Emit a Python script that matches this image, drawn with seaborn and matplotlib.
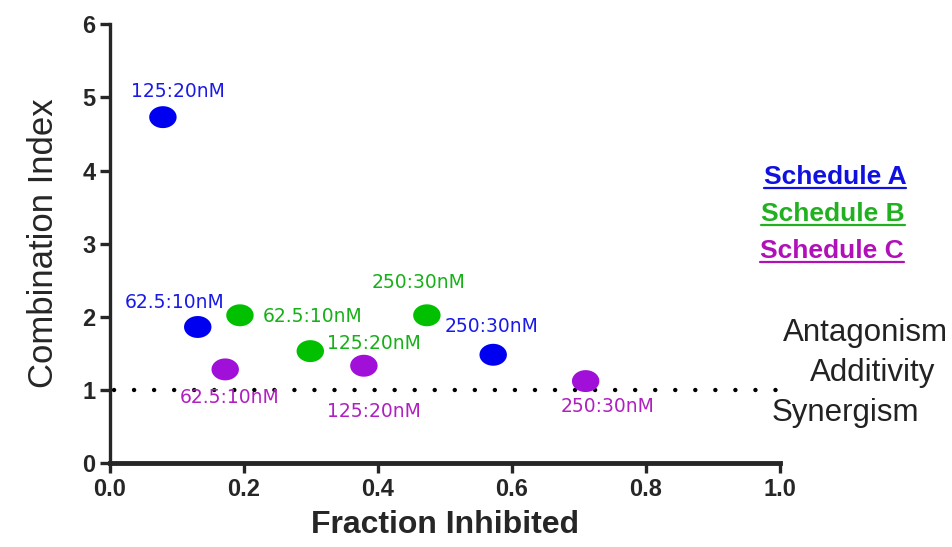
import numpy as np
import pandas as pd
import seaborn as sns
import matplotlib.pyplot as plt
import matplotlib.ticker as mticker
from matplotlib.path import Path
from matplotlib.lines import Line2D

# Daten
schedules = ["Schedule A", "Schedule B", "Schedule C"]
doses = ["62.5:10nM", "125:20nM", "250:30nM"]
fa_a = [0.131, 0.079, 0.572]
ci_a = [1.86, 4.73, 1.48]
fa_b = [0.194, 0.299, 0.473]
ci_b = [2.02, 1.53, 2.02]
fa_c = [0.172, 0.379, 0.710]
ci_c = [1.28, 1.33, 1.12]
additivity = 1.0

marker_colors = {"Schedule A": "#0000f0", "Schedule B": "#00c000", "Schedule C": "#a010d8"}
label_colors = {"Schedule A": "#1a1ae6", "Schedule B": "#18b018", "Schedule C": "#b020c0"}
legend_colors = {"Schedule A": "#1010e0", "Schedule B": "#20b020", "Schedule C": "#b010b8"}

df = pd.DataFrame({
    "fa": fa_a + fa_b + fa_c,
    "ci": ci_a + ci_b + ci_c,
    "schedule": [s for s in schedules for _ in doses],
    "dose": doses * 3,
})

# Label-Positionen relativ zum Punkt (dx, dy in Datenkoordinaten)
offsets = {
    ("Schedule A", "62.5:10nM"): (-0.035, 0.34),
    ("Schedule A", "125:20nM"): (0.022, 0.35),
    ("Schedule A", "250:30nM"): (-0.002, 0.38),
    ("Schedule B", "62.5:10nM"): (0.108, -0.01),
    ("Schedule B", "125:20nM"): (0.095, 0.11),
    ("Schedule B", "250:30nM"): (-0.013, 0.45),
    ("Schedule C", "62.5:10nM"): (0.006, -0.39),
    ("Schedule C", "125:20nM"): (0.015, -0.62),
    ("Schedule C", "250:30nM"): (0.032, -0.35),
}

sns.set_style("ticks")
plt.rcParams["font.family"] = ["Liberation Sans", "DejaVu Sans"]

fig = plt.figure(figsize=(9.53, 5.47), dpi=100)
ax = fig.add_axes([0.1154, 0.1536, 0.703, 0.802])

# elliptischer Marker
t = np.linspace(0, 2 * np.pi, 60)
ellipse = Path(np.column_stack([np.cos(t), 0.8 * np.sin(t)]), closed=True)

ax.plot([0.006, 1.0], [additivity, additivity], color="black", lw=3.2,
        linestyle=(0, (0.01, 4.5)), dash_capstyle="round", zorder=1)

sns.scatterplot(data=df, x="fa", y="ci", hue="schedule", palette=marker_colors,
                marker=ellipse, s=390, linewidth=0, legend=False, ax=ax, zorder=3)

for _, r in df.iterrows():
    dx, dy = offsets[(r["schedule"], r["dose"])]
    ax.text(r["fa"] + dx, r["ci"] + dy, r["dose"], color=label_colors[r["schedule"]],
            fontsize=13.5, family="DejaVu Sans", ha="center", va="center")

ax.set_xlim(0, 1.0)
ax.set_ylim(0, 6)
ax.xaxis.set_major_locator(mticker.MultipleLocator(0.2))
ax.yaxis.set_major_locator(mticker.MultipleLocator(1))
ax.xaxis.set_major_formatter(mticker.FormatStrFormatter("%.1f"))
ax.set_xlabel("Fraction Inhibited", fontsize=23, fontweight="bold", labelpad=7)
ax.set_ylabel("Combination Index", fontsize=25, labelpad=16)

sns.despine(ax=ax)
ax.spines["left"].set_linewidth(2.4)
ax.spines["bottom"].set_linewidth(3.5)
ax.tick_params(axis="both", width=2.4, length=7, direction="out", labelsize=17)
for lab in ax.get_xticklabels() + ax.get_yticklabels():
    lab.set_fontweight("bold")

# Legende als Text
leg_y = [3.91, 3.40, 2.90]
leg_x = [1.082, 1.079, 1.078]
leg_texts = []
for s, xx, yy in zip(schedules, leg_x, leg_y):
    leg_texts.append(ax.text(xx, yy, s, color=legend_colors[s], fontsize=19, fontweight="bold",
                             ha="center", va="center", clip_on=False))

ax.text(1.127, 1.78, "Antagonism", fontsize=22.5, ha="center", va="center", clip_on=False, color="#222222")
ax.text(1.139, 1.23, "Additivity", fontsize=22.5, ha="center", va="center", clip_on=False, color="#222222")
ax.text(1.097, 0.68, "Synergism", fontsize=22.5, ha="center", va="center", clip_on=False, color="#222222")

# Unterstreichung
fig.canvas.draw()
inv = fig.transFigure.inverted()
for txt, s in zip(leg_texts, schedules):
    bb = txt.get_window_extent()
    (x0, y0), (x1, y1) = inv.transform([[bb.x0, bb.y0 + 1], [bb.x1, bb.y1]])
    fig.add_artist(Line2D([x0, x1], [y0, y0], color=legend_colors[s], lw=1.6,
                          transform=fig.transFigure))

fig.savefig("out.png", dpi=100)
